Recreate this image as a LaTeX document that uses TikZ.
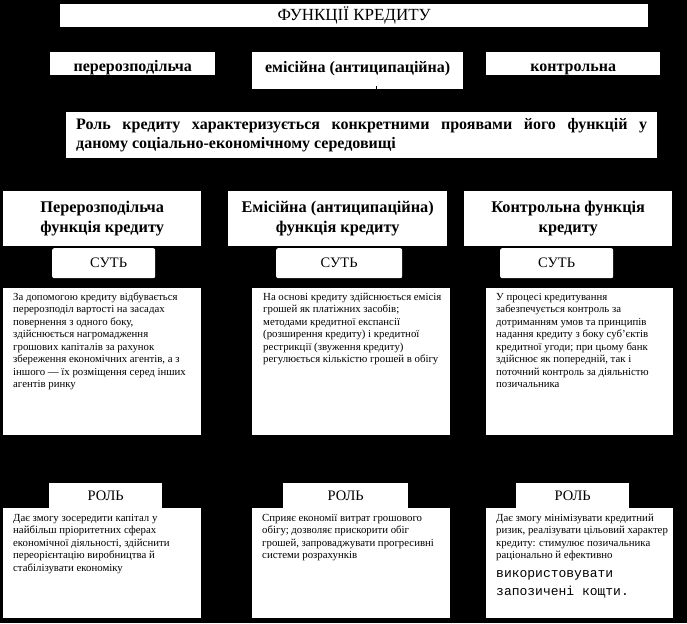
\documentclass[tikz,border=0pt]{standalone}
\usepackage{fontspec}
\setmainfont{Liberation Serif}
\newfontfamily\monofont{Liberation Mono}
% #1 left pad, #2 width, #3 height, #4 top skip, #5 text
\newcommand{\boxtext}[5]{\hspace*{#1}\parbox[c][#3][t]{#2}{\raggedright\fontsize{10.8}{12.5}\selectfont\vspace*{#4}\strut #5}}
\tikzset{
  wbox/.style={fill=white, draw=none, inner xsep=0pt, inner ysep=0pt, anchor=north west, align=center},
  headtext/.style={font=\fontsize{17}{19}\selectfont},
  rowtext/.style={font=\fontsize{16}{18}\selectfont\bfseries},
  fntext/.style={font=\fontsize{16.3}{20}\selectfont\bfseries},
  labtext/.style={font=\fontsize{14.5}{16}\selectfont},
  suttbox/.style={wbox, rounded corners=2pt, minimum height=30pt},
  rolbox/.style={wbox, minimum height=25pt}
}
\begin{document}
\begin{tikzpicture}[x=1pt,y=-1pt]
\fill[black] (0,0) rectangle (687,623);
\useasboundingbox (0,0) rectangle (687,623);

% title
\node[wbox, headtext, minimum width=588pt, minimum height=23pt] (title) at (60,4) {ФУНКЦІЇ КРЕДИТУ};

% second row
\node[wbox, rowtext, minimum width=165pt, minimum height=23pt] (a1) at (50,52) {\raisebox{0pt}[19pt][4pt]{перерозподільча}};
\node[wbox, rowtext, minimum width=211pt, minimum height=37pt] (a2) at (252,52) {\raisebox{0pt}[20pt][17pt]{емісійна (антиципаційна)}};
\node[wbox, rowtext, minimum width=174pt, minimum height=23pt] (a3) at (486,52) {\raisebox{0pt}[19pt][4pt]{контрольна}};
\draw[black, line width=0.8pt] ([xshift=-87pt]a2.south east) -- ([xshift=-87pt,yshift=3pt]a2.south east);

% role statement
\node[wbox, inner xsep=10pt, minimum width=591pt, minimum height=46pt] (role) at (66,112)
  {\parbox{571pt}{\fontsize{16}{19}\selectfont\bfseries Роль кредиту характеризується конкретними проявами його функцій у\linebreak даному соціально-економічному середовищі}};

% function headings
\node[wbox, fntext, minimum width=198pt, minimum height=55pt] (h1) at (3,191) {Перерозподільча\\функція кредиту};
\node[wbox, fntext, minimum width=219pt, minimum height=55pt] (h2) at (228,191) {Емісійна (антиципаційна)\\функція кредиту};
\node[wbox, fntext, minimum width=208pt, minimum height=55pt] (h3) at (464,191) {Контрольна функція\\кредиту};

% СУТЬ labels
\node[suttbox, labtext, minimum width=103pt] (s1) at (52,248) {\hspace*{10pt}СУТЬ};
\node[suttbox, labtext, minimum width=126pt] (s2) at (276,248) {СУТЬ};
\node[suttbox, labtext, minimum width=113pt] (s3) at (500,248) {СУТЬ};

% essence texts
\node[wbox] (t1) at (3,288) {\boxtext{10pt}{188pt}{147pt}{3.3pt}{За допомогою кредиту відбувається\\перерозподіл вартості на засадах\\повернення з одного боку,\\здійснюється нагромадження\\грошових капіталів за рахунок\\збереження економічних агентів, а з\\іншого — їх розміщення серед інших\\агентів ринку}};
\node[wbox] (t2) at (252,288) {\boxtext{11pt}{187pt}{147pt}{3.3pt}{На основі кредиту здійснюється емісія\\грошей як платіжних засобів;\\методами кредитної експансії\\(розширення кредиту) і кредитної\\рестрикції (звуження кредиту)\\регулюється кількістю грошей в обігу}};
\node[wbox] (t3) at (486,288) {\boxtext{10pt}{177pt}{147pt}{3.3pt}{У процесі кредитування\\забезпечується контроль за\\дотриманням умов та принципів\\надання кредиту з боку суб’єктів\\кредитної угоди; при цьому банк\\здійснює як попередній, так і\\поточний контроль за діяльністю\\позичальника}};

% РОЛЬ labels
\node[rolbox, labtext, minimum width=113pt] (r1) at (49,483) {РОЛЬ};
\node[rolbox, labtext, minimum width=125pt] (r2) at (283,483) {РОЛЬ};
\node[rolbox, labtext, minimum width=113pt] (r3) at (516,483) {РОЛЬ};

% role texts
\node[wbox] (b1) at (3,508) {\boxtext{10pt}{188pt}{110pt}{4.3pt}{Дає змогу зосередити капітал у\\найбільш пріоритетних сферах\\економічної діяльності, здійснити\\переорієнтацію виробництва й\\стабілізувати економіку}};
\node[wbox] (b2) at (252,508) {\boxtext{10pt}{188pt}{110pt}{4.3pt}{Сприяє економії витрат грошового\\обігу; дозволяє прискорити обіг\\грошей, запроваджувати прогресивні\\системи розрахунків}};
\node[wbox] (b3) at (486,508) {\boxtext{10pt}{177pt}{110pt}{4.3pt}{Дає змогу мінімізувати кредитний\\ризик, реалізувати цільовий характер\\кредиту: стимулює позичальника\\раціонально й ефективно\par
{\monofont\fontsize{13}{18.5}\selectfont використовувати\\запозичені кощти.\par}}};
\end{tikzpicture}
\end{document}
